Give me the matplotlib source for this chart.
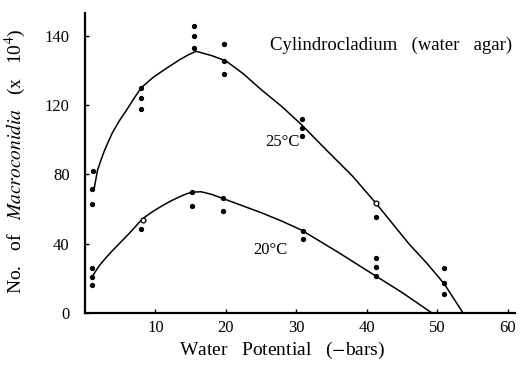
import matplotlib
matplotlib.use('Agg')
from matplotlib import pyplot
import numpy as np

pyplot.rcParams['font.family'] = ['Liberation Serif', 'DejaVu Serif']
pyplot.rcParams['mathtext.fontset'] = 'stix'

# observed points, 25 C
obs25_x = [1.2, 1.0, 1.0, 8.0, 8.0, 8.0, 15.5, 15.5, 15.5,
           19.7, 19.7, 19.7, 30.8, 30.8, 30.8, 41.3, 51.0, 51.0, 51.0]
obs25_y = [82, 71.5, 63, 130, 124, 118, 165.6, 160, 153,
           155, 145.5, 138, 112, 107, 102, 55.4, 26, 17.3, 11]
open25_x = [41.3]
open25_y = [63.5]

# observed points, 20 C
obs20_x = [1.0, 1.0, 1.0, 8.0, 15.2, 15.2, 19.6, 19.6, 30.9, 30.9,
           41.3, 41.3, 41.3]
obs20_y = [26, 21, 16, 48.5, 70, 62, 66.4, 59, 47.3, 42.7,
           32, 26.5, 21.4]
open20_x = [8.2]
open20_y = [54]

# fitted curves
fit25_x = [1.3, 1.8, 2.3, 2.8, 3.4, 3.9, 4.9, 5.9, 7.0, 8.0, 9.7, 11.5,
           13.4, 14.7, 15.8, 18.0, 20.0, 22.5, 25.0, 28.0, 30.8, 34.3,
           38.0, 41.3, 44.0, 46.0, 48.5, 51.0, 53.7]
fit25_y = [71.5, 82.5, 88.5, 94, 99.5, 104, 111, 117, 124, 130, 136, 141,
           146, 149, 151, 148.5, 145.5, 138, 129, 119, 108.5, 94,
           79, 63.5, 50, 40, 29, 17, 0]
fit20_x = [1.0, 2.1, 3.0, 3.9, 5.1, 6.3, 7.3, 8.2, 9.6, 11.0, 12.2, 13.4,
           14.4, 15.3, 16.5, 18.0, 19.4, 22.0, 25.0, 28.0, 30.7, 36.0,
           41.3, 45.0, 49.3]
fit20_y = [21, 27.7, 32, 36, 41, 46, 50.5, 54.5, 58.5, 62, 64.7, 67,
           68.8, 69.8, 70, 68.5, 66.4, 62.5, 58, 53, 48, 35,
           21.4, 12, 0]

xticks = [10, 20, 30, 40, 50, 60]
yticks = [0, 40, 80, 120, 160]
ytick_labels = ['0', '40', '80', '120', '140']

fig = pyplot.figure(figsize=(5.24, 3.65), dpi=100)
ax = fig.add_axes([0.162, 0.142, 0.820, 0.822])

ax.plot(fit25_x, fit25_y, color='black', lw=1.1)
ax.plot(fit20_x, fit20_y, color='black', lw=1.1)
ax.plot(obs25_x, obs25_y, 'o', color='black', ms=2.8)
ax.plot(obs20_x, obs20_y, 'o', color='black', ms=2.8)
ax.plot(open25_x + open20_x, open25_y + open20_y, 'o', mfc='white',
        mec='black', mew=0.9, ms=3.5)

ax.set_xlim(0, 61)
ax.set_ylim(0, 173)
ax.set_xticks(xticks)
ax.set_yticks(yticks)
ax.set_yticklabels(ytick_labels)
for s in ['top', 'right']:
    ax.spines[s].set_visible(False)
for s in ['left', 'bottom']:
    ax.spines[s].set_linewidth(1.6)
ax.tick_params(direction='in', length=3, width=1, labelsize=12)
ax.tick_params(axis='y', pad=11)
ax.tick_params(axis='x', pad=5)

ax.set_xlabel('Water   Potential   ($-$bars)', fontsize=14)
ax.xaxis.set_label_coords(0.46, -0.09)
fig.text(0.029, 0.559, r'No.   of   $\it{Macroconidia}$   (x   10$^4$)',
         rotation=90, ha='center', va='center', fontsize=14)

fig.text(0.515, 0.877, 'Cylindrocladium   (water   agar)', fontsize=13.5,
         ha='left', va='center')
fig.text(0.506, 0.611, '25°C', fontsize=12, ha='left', va='center')
fig.text(0.483, 0.315, '20°C', fontsize=12, ha='left', va='center')

pyplot.savefig('out.png', dpi=100)
pyplot.close()
